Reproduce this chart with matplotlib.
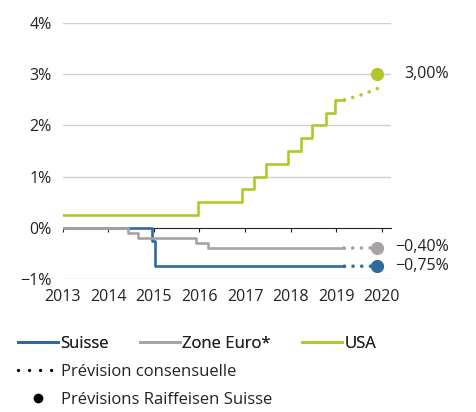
import matplotlib.pyplot as plt
from matplotlib.lines import Line2D

plt.rcParams['font.family'] = ['Open Sans', 'DejaVu Sans']

# step series (x = year fraction, value in %)
usa_x = [2013.0, 2015.96, 2016.93, 2017.2, 2017.45, 2017.95, 2018.22, 2018.47, 2018.77, 2018.98, 2019.18]
usa_y = [0.25, 0.50, 0.75, 1.00, 1.25, 1.50, 1.75, 2.00, 2.25, 2.50, 2.50]
euro_x = [2013.0, 2014.43, 2014.66, 2015.93, 2016.19, 2019.18]
euro_y = [0.0, -0.10, -0.20, -0.30, -0.40, -0.40]
ch_x = [2013.0, 2014.96, 2015.03, 2019.18]
ch_y = [0.0, -0.25, -0.75, -0.75]

# consensus forecasts
usa_fc_x = [2019.18, 2019.5, 2019.8, 2020.05]
usa_fc_y = [2.50, 2.58, 2.68, 2.77]
euro_fc_x = [2019.18, 2020.0]
euro_fc_y = [-0.40, -0.40]
ch_fc_x = [2019.18, 2019.85, 2020.05]
ch_fc_y = [-0.75, -0.75, -0.65]

# Raiffeisen forecasts
raif_x = [2019.9, 2019.9, 2019.9]
raif_y = [3.00, -0.40, -0.75]
raif_labels = ['3,00%', '\u22120,40%', '\u22120,75%']

years = list(range(2013, 2021))
yticks = [-1, 0, 1, 2, 3, 4]
ylabels = ['\u22121%', '0%', '1%', '2%', '3%', '4%']

blue = '#2E6A9E'
grey = '#A9A2A2'
green = '#B3C72B'
colors = [green, grey, blue]
txt = '#222222'

fig = plt.figure(figsize=(4.76, 4.12), dpi=100)
ax = fig.add_axes([0.132, 0.3228, 0.689, 0.6214])

for y in [-1, 1, 2, 3, 4]:
    ax.axhline(y, color='#CFCFCF', lw=1.0, zorder=0)

dot = (0, (0.01, 2.4))
ax.step(ch_x, ch_y, where='post', color=blue, lw=1.9, zorder=2)
ax.step(euro_x, euro_y, where='post', color=grey, lw=1.9, zorder=3)
ax.step(usa_x, usa_y, where='post', color=green, lw=1.9, zorder=3)
for fx, fy, c in [(usa_fc_x, usa_fc_y, green), (euro_fc_x, euro_fc_y, grey), (ch_fc_x, ch_fc_y, blue)]:
    ax.plot(fx, fy, color=c, lw=2.6, linestyle=dot, dash_capstyle='round', zorder=3)

for x, y, c in zip(raif_x, raif_y, colors):
    ax.plot(x, y, 'o', color=c, ms=8.5, zorder=4)
ax.text(2020.5, 3.0, raif_labels[0], va='center', ha='left', fontsize=11.5, color=txt)
ax.text(2020.3, -0.38, raif_labels[1], va='center', ha='left', fontsize=11.5, color=txt)
ax.text(2020.3, -0.74, raif_labels[2], va='center', ha='left', fontsize=11.5, color=txt)

ax.set_xlim(2013, 2020.2)
ax.set_ylim(-1, 4)
ax.set_yticks(yticks)
ax.set_yticklabels(ylabels, fontsize=11.5, color=txt)
ax.set_xticks(years)
ax.set_xticklabels([str(y) for y in years], fontsize=11.5, color=txt)
ax.tick_params(axis='x', length=0, pad=7)
ax.tick_params(axis='y', length=0, pad=8)
for s in ax.spines.values():
    s.set_visible(False)

# zero line with year ticks
sec = ax.secondary_xaxis(0.2)
sec.set_xticks(years)
sec.set_xticklabels([])
sec.tick_params(direction='out', length=3, width=0.8, color=txt)
sec.spines['bottom'].set_linewidth(0.8)
sec.spines['bottom'].set_color(txt)

h1 = [Line2D([], [], color=blue, lw=2), Line2D([], [], color=grey, lw=2), Line2D([], [], color=green, lw=2)]
leg1 = fig.legend(h1, ['Suisse', 'Zone Euro*', 'USA'], ncol=3, loc='upper left',
                  bbox_to_anchor=(0.038, 0.185), frameon=False, fontsize=12,
                  handlelength=2.4, handletextpad=0.15, columnspacing=1.85, borderaxespad=0, borderpad=0,
                  labelcolor=txt)
h2 = [Line2D([], [], color='black', lw=2.4, linestyle=(0, (0.01, 3.3)), dash_capstyle='round'),
      Line2D([], [], color='black', lw=0, marker='o', ms=6)]
fig.legend(h2, ['Pr\u00e9vision consensuelle', 'Pr\u00e9visions Raiffeisen Suisse'], loc='upper left',
           bbox_to_anchor=(0.038, 0.116), frameon=False, fontsize=12, labelspacing=0.68,
           handlelength=2.4, handletextpad=0.15, borderaxespad=0, borderpad=0, labelcolor=txt)
fig.add_artist(leg1)

fig.savefig('out.png', dpi=100)
